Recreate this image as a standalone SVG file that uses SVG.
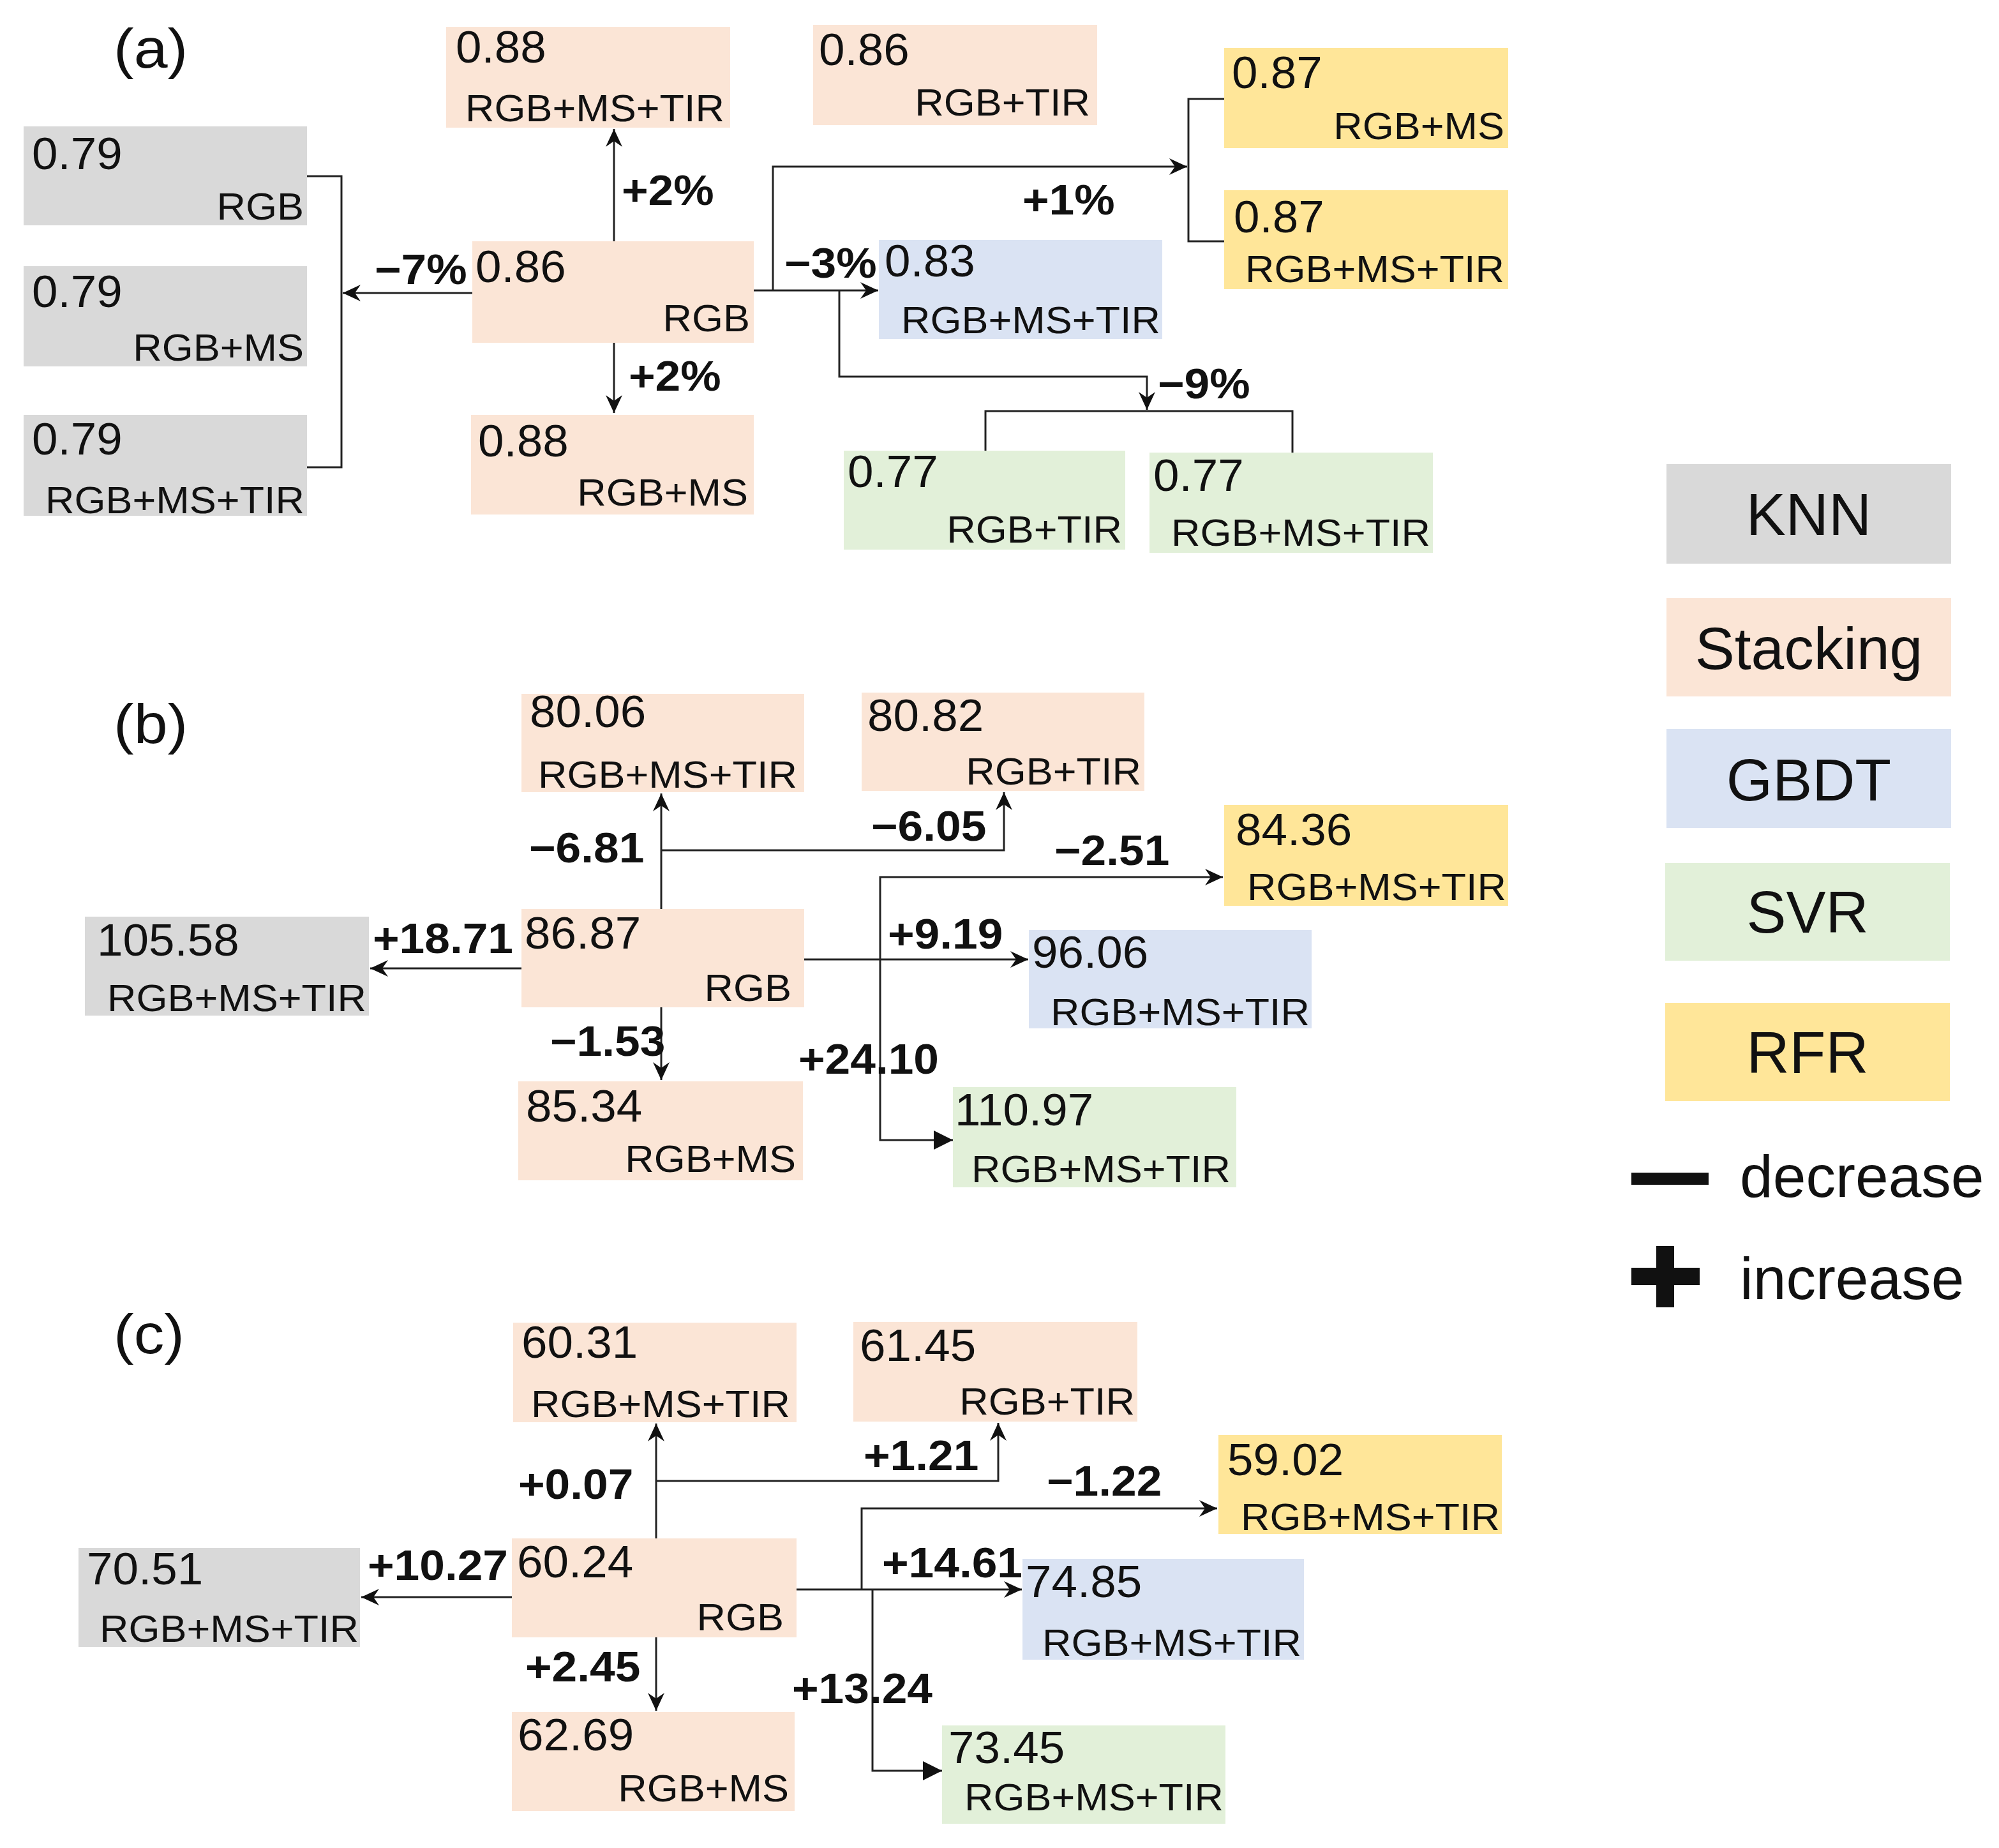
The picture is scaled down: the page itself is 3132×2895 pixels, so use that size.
<svg xmlns="http://www.w3.org/2000/svg" width="3132" height="2895" viewBox="0 0 3132 2895">
<style>
text{font-family:"Liberation Sans",Arial,sans-serif;fill:#111}
.num{font-size:70px}
.lab{font-size:60px;text-anchor:end}
.chg{font-size:66px;font-weight:bold}
.pan{font-size:88px}
.leg{font-size:93px;text-anchor:middle}
.legt{font-size:93px}
.knn{fill:#D9D9D9}.stk{fill:#FBE5D6}.gbdt{fill:#DAE3F3}.svr{fill:#E2F0D9}.rfr{fill:#FFE699}
.c{fill:none;stroke:#222;stroke-width:3}
.s{marker-end:url(#st)}
.t{marker-end:url(#tri)}
</style>
<defs>
<marker id="st" markerUnits="userSpaceOnUse" markerWidth="32" markerHeight="32" viewBox="-30 -16 32 32" refX="0" refY="0" orient="auto"><path d="M0,0 L-28,-13 L-19,0 L-28,13 Z" fill="#111"/></marker>
<marker id="tri" markerUnits="userSpaceOnUse" markerWidth="34" markerHeight="34" viewBox="-32 -17 34 34" refX="0" refY="0" orient="auto"><path d="M0,0 L-30,-15 L-30,15 Z" fill="#111"/></marker>
</defs>
<rect width="3132" height="2895" fill="#fff"/>

<!-- panel labels -->
<text class="pan" transform="translate(178,106) scale(1.08,1)">(a)</text>
<text class="pan" transform="translate(178,1164) scale(1.08,1)">(b)</text>
<text class="pan" transform="translate(178,2120) scale(1.08,1)">(c)</text>

<!-- ===== Panel (a) nodes ===== -->
<g id="a_knn_rgb"><rect class="knn" x="37" y="198" width="444" height="155"/>
<text class="num" transform="translate(50,265) scale(1.04,1)">0.79</text>
<text class="lab" transform="translate(476,344) scale(1.05,1)">RGB</text></g>
<g id="a_knn_rgbms"><rect class="knn" x="37" y="417" width="444" height="157"/>
<text class="num" transform="translate(50,481) scale(1.04,1)">0.79</text>
<text class="lab" transform="translate(476,565) scale(1.05,1)">RGB+MS</text></g>
<g id="a_knn_all"><rect class="knn" x="37" y="650" width="444" height="158"/>
<text class="num" transform="translate(50,712) scale(1.04,1)">0.79</text>
<text class="lab" transform="translate(477,804) scale(1.05,1)">RGB+MS+TIR</text></g>
<g id="a_stk_all"><rect class="stk" x="699" y="42" width="445" height="158"/>
<text class="num" transform="translate(714,98) scale(1.04,1)">0.88</text>
<text class="lab" transform="translate(1135,190) scale(1.05,1)">RGB+MS+TIR</text></g>
<g id="a_stk_rgb"><rect class="stk" x="740" y="378" width="441" height="159"/>
<text class="num" transform="translate(745,442) scale(1.04,1)">0.86</text>
<text class="lab" transform="translate(1175,519) scale(1.05,1)">RGB</text></g>
<g id="a_stk_rgbms"><rect class="stk" x="738" y="650" width="443" height="156"/>
<text class="num" transform="translate(749,715) scale(1.04,1)">0.88</text>
<text class="lab" transform="translate(1172,792) scale(1.05,1)">RGB+MS</text></g>
<g id="a_stk_rgbtir"><rect class="stk" x="1274" y="39" width="445" height="157"/>
<text class="num" transform="translate(1283,102) scale(1.04,1)">0.86</text>
<text class="lab" transform="translate(1708,181) scale(1.05,1)">RGB+TIR</text></g>
<g id="a_rfr_rgbms"><rect class="rfr" x="1918" y="75" width="445" height="157"/>
<text class="num" transform="translate(1930,138) scale(1.04,1)">0.87</text>
<text class="lab" transform="translate(2357,218) scale(1.05,1)">RGB+MS</text></g>
<g id="a_rfr_all"><rect class="rfr" x="1918" y="298" width="445" height="155"/>
<text class="num" transform="translate(1933,364) scale(1.04,1)">0.87</text>
<text class="lab" transform="translate(2357,442) scale(1.05,1)">RGB+MS+TIR</text></g>
<g id="a_gbdt_all"><rect class="gbdt" x="1377" y="376" width="444" height="155"/>
<text class="num" transform="translate(1386,433) scale(1.04,1)">0.83</text>
<text class="lab" transform="translate(1818,522) scale(1.05,1)">RGB+MS+TIR</text></g>
<g id="a_svr_rgbtir"><rect class="svr" x="1322" y="706" width="441" height="155"/>
<text class="num" transform="translate(1328,763) scale(1.04,1)">0.77</text>
<text class="lab" transform="translate(1758,850) scale(1.05,1)">RGB+TIR</text></g>
<g id="a_svr_all"><rect class="svr" x="1801" y="709" width="444" height="157"/>
<text class="num" transform="translate(1807,769) scale(1.04,1)">0.77</text>
<text class="lab" transform="translate(2241,855) scale(1.05,1)">RGB+MS+TIR</text></g>

<!-- ===== Panel (b) nodes ===== -->
<g id="b_stk_all"><rect class="stk" x="817" y="1087" width="443" height="154"/>
<text class="num" transform="translate(830,1139) scale(1.04,1)">80.06</text>
<text class="lab" transform="translate(1249,1234) scale(1.05,1)">RGB+MS+TIR</text></g>
<g id="b_stk_rgbtir"><rect class="stk" x="1350" y="1085" width="443" height="154"/>
<text class="num" transform="translate(1359,1145) scale(1.04,1)">80.82</text>
<text class="lab" transform="translate(1788,1229) scale(1.05,1)">RGB+TIR</text></g>
<g id="b_stk_rgb"><rect class="stk" x="817" y="1424" width="443" height="154"/>
<text class="num" transform="translate(822,1486) scale(1.04,1)">86.87</text>
<text class="lab" transform="translate(1240,1568) scale(1.05,1)">RGB</text></g>
<g id="b_stk_rgbms"><rect class="stk" x="812" y="1694" width="446" height="155"/>
<text class="num" transform="translate(824,1757) scale(1.04,1)">85.34</text>
<text class="lab" transform="translate(1247,1836) scale(1.05,1)">RGB+MS</text></g>
<g id="b_knn_all"><rect class="knn" x="133" y="1436" width="445" height="155"/>
<text class="num" transform="translate(152,1497) scale(1.04,1)">105.58</text>
<text class="lab" transform="translate(574,1584) scale(1.05,1)">RGB+MS+TIR</text></g>
<g id="b_rfr_all"><rect class="rfr" x="1918" y="1261" width="445" height="158"/>
<text class="num" transform="translate(1936,1324) scale(1.04,1)">84.36</text>
<text class="lab" transform="translate(2360,1410) scale(1.05,1)">RGB+MS+TIR</text></g>
<g id="b_gbdt_all"><rect class="gbdt" x="1612" y="1457" width="443" height="154"/>
<text class="num" transform="translate(1617,1516) scale(1.04,1)">96.06</text>
<text class="lab" transform="translate(2052,1606) scale(1.05,1)">RGB+MS+TIR</text></g>
<g id="b_svr_all"><rect class="svr" x="1493" y="1703" width="444" height="157"/>
<text class="num" transform="translate(1496,1763) scale(1.04,1)">110.97</text>
<text class="lab" transform="translate(1928,1852) scale(1.05,1)">RGB+MS+TIR</text></g>

<!-- ===== Panel (c) nodes ===== -->
<g id="c_stk_all"><rect class="stk" x="804" y="2072" width="444" height="156"/>
<text class="num" transform="translate(817,2127) scale(1.04,1)">60.31</text>
<text class="lab" transform="translate(1238,2220) scale(1.05,1)">RGB+MS+TIR</text></g>
<g id="c_stk_rgbtir"><rect class="stk" x="1337" y="2071" width="445" height="156"/>
<text class="num" transform="translate(1347,2132) scale(1.04,1)">61.45</text>
<text class="lab" transform="translate(1778,2216) scale(1.05,1)">RGB+TIR</text></g>
<g id="c_stk_rgb"><rect class="stk" x="802" y="2410" width="446" height="155"/>
<text class="num" transform="translate(810,2471) scale(1.04,1)">60.24</text>
<text class="lab" transform="translate(1228,2554) scale(1.05,1)">RGB</text></g>
<g id="c_stk_rgbms"><rect class="stk" x="802" y="2682" width="443" height="155"/>
<text class="num" transform="translate(811,2742) scale(1.04,1)">62.69</text>
<text class="lab" transform="translate(1236,2822) scale(1.05,1)">RGB+MS</text></g>
<g id="c_knn_all"><rect class="knn" x="123" y="2425" width="441" height="155"/>
<text class="num" transform="translate(136,2482) scale(1.04,1)">70.51</text>
<text class="lab" transform="translate(562,2572) scale(1.05,1)">RGB+MS+TIR</text></g>
<g id="c_rfr_all"><rect class="rfr" x="1909" y="2248" width="444" height="155"/>
<text class="num" transform="translate(1923,2311) scale(1.04,1)">59.02</text>
<text class="lab" transform="translate(2350,2397) scale(1.05,1)">RGB+MS+TIR</text></g>
<g id="c_gbdt_all"><rect class="gbdt" x="1602" y="2442" width="441" height="158"/>
<text class="num" transform="translate(1607,2502) scale(1.04,1)">74.85</text>
<text class="lab" transform="translate(2039,2594) scale(1.05,1)">RGB+MS+TIR</text></g>
<g id="c_svr_all"><rect class="svr" x="1476" y="2703" width="444" height="154"/>
<text class="num" transform="translate(1486,2762) scale(1.04,1)">73.45</text>
<text class="lab" transform="translate(1917,2836) scale(1.05,1)">RGB+MS+TIR</text></g>

<!-- ===== Connectors ===== -->
<g id="connectors">
<!-- (a) -->
<path class="c" d="M481,276 H535 V732 H481"/>
<path class="c s" d="M740,459 H537"/>
<path class="c s" d="M962,378 V202"/>
<path class="c s" d="M962,537 V647"/>
<path class="c s" d="M1181,455 H1376"/>
<path class="c s" d="M1211,455 V261 H1860"/>
<path class="c" d="M1918,155 H1862 V378 H1918"/>
<path class="c s" d="M1315,455 V590 H1797 V642"/>
<path class="c" d="M1544,706 V644 H2025 V709"/>
<!-- (b) -->
<path class="c s" d="M817,1517 H580"/>
<path class="c s" d="M1036,1424 V1243"/>
<path class="c s" d="M1036,1332 H1573 V1241"/>
<path class="c s" d="M1036,1578 V1692"/>
<path class="c s" d="M1260,1503 H1611"/>
<path class="c s" d="M1379,1503 V1374 H1916"/>
<path class="c t" d="M1379,1503 V1786 H1493"/>
<!-- (c) -->
<path class="c s" d="M802,2502 H566"/>
<path class="c s" d="M1028,2410 V2230"/>
<path class="c s" d="M1028,2320 H1564 V2229"/>
<path class="c s" d="M1028,2565 V2680"/>
<path class="c s" d="M1248,2490 H1601"/>
<path class="c s" d="M1350,2490 V2363 H1907"/>
<path class="c t" d="M1367,2490 V2774 H1476"/>
</g>

<!-- ===== Change labels ===== -->
<g id="changes">
<text class="chg" transform="translate(587,445) scale(1.08,1)">−7%</text>
<text class="chg" transform="translate(974,321) scale(1.08,1)">+2%</text>
<text class="chg" transform="translate(985,612) scale(1.08,1)">+2%</text>
<text class="chg" transform="translate(1602,336) scale(1.08,1)">+1%</text>
<text class="chg" transform="translate(1229,435) scale(1.08,1)">−3%</text>
<text class="chg" transform="translate(1814,624) scale(1.08,1)">−9%</text>
<text class="chg" transform="translate(584,1493) scale(1.08,1)">+18.71</text>
<text class="chg" transform="translate(829,1351) scale(1.08,1)">−6.81</text>
<text class="chg" transform="translate(862,1654) scale(1.08,1)">−1.53</text>
<text class="chg" transform="translate(1365,1317) scale(1.08,1)">−6.05</text>
<text class="chg" transform="translate(1652,1355) scale(1.08,1)">−2.51</text>
<text class="chg" transform="translate(1391,1486) scale(1.08,1)">+9.19</text>
<text class="chg" transform="translate(1251,1682) scale(1.08,1)">+24.10</text>
<text class="chg" transform="translate(576,2475) scale(1.08,1)">+10.27</text>
<text class="chg" transform="translate(812,2348) scale(1.08,1)">+0.07</text>
<text class="chg" transform="translate(823,2634) scale(1.08,1)">+2.45</text>
<text class="chg" transform="translate(1353,2303) scale(1.08,1)">+1.21</text>
<text class="chg" transform="translate(1640,2343) scale(1.08,1)">−1.22</text>
<text class="chg" transform="translate(1382,2471) scale(1.08,1)">+14.61</text>
<text class="chg" transform="translate(1241,2668) scale(1.08,1)">+13.24</text>
</g>

<!-- ===== Legend ===== -->
<g id="legend">
<g id="leg_knn"><rect class="knn" x="2611" y="727" width="446" height="156"/><text class="leg" x="2834" y="838">KNN</text></g>
<g id="leg_stk"><rect class="stk" x="2611" y="937" width="446" height="154"/><text class="leg" x="2834" y="1048">Stacking</text></g>
<g id="leg_gbdt"><rect class="gbdt" x="2611" y="1142" width="446" height="155"/><text class="leg" x="2834" y="1254">GBDT</text></g>
<g id="leg_svr"><rect class="svr" x="2609" y="1352" width="446" height="153"/><text class="leg" x="2832" y="1461">SVR</text></g>
<g id="leg_rfr"><rect class="rfr" x="2609" y="1571" width="446" height="154"/><text class="leg" x="2832" y="1681">RFR</text></g>
<g id="leg_dec"><rect x="2556" y="1837" width="121" height="19" fill="#111"/><text class="legt" x="2726" y="1875">decrease</text></g>
<g id="leg_inc"><rect x="2595" y="1952" width="28" height="96" fill="#111"/><rect x="2556" y="1986" width="107" height="27" fill="#111"/><text class="legt" x="2726" y="2035">increase</text></g>
</g>
</svg>
